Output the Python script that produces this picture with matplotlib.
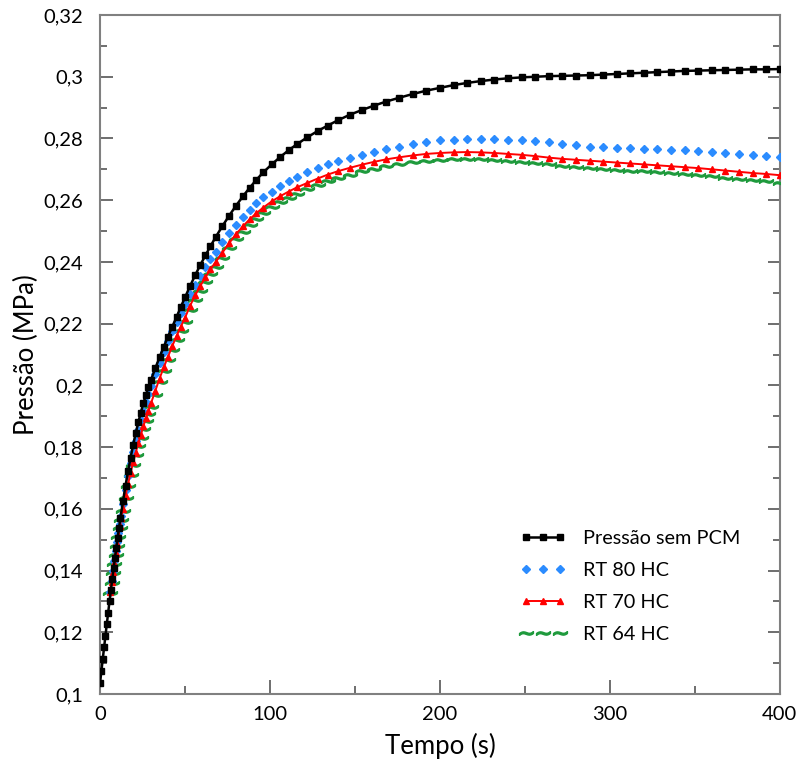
import matplotlib
matplotlib.use('Agg')
import matplotlib.pyplot as plt
from matplotlib.ticker import MultipleLocator, FuncFormatter

plt.rcParams['font.family'] = ['Lato', 'DejaVu Sans']

# tempo (s) da curva sem PCM
t_ref = [0.0, 0.8, 1.6, 2.4, 3.2, 4.0, 4.8, 5.6, 6.4, 7.2, 8.0, 8.8, 9.6, 10.4, 11.2, 12.0,
         13.5, 15, 16.5, 18, 19.5, 21, 22.5, 24, 25.5, 27, 28.5, 30,
         32.5, 35, 37.5, 40, 42.5, 45, 47.5, 50,
         53, 56, 59, 62, 65, 68,
         72, 76, 80, 84, 88, 92, 96,
         101, 106, 111, 116,
         122, 128, 134, 140,
         147, 154, 161, 168,
         176, 184, 192, 200, 208, 216, 224, 232, 240, 248, 256, 264, 272, 280, 288,
         296, 304, 312, 320, 328, 336, 344, 352, 360, 368, 376, 384, 392, 400]
p_ref = [0.1035, 0.1074, 0.1113, 0.1151, 0.1189, 0.1227, 0.1264, 0.1301, 0.1337, 0.1372,
         0.1407, 0.1441, 0.1474, 0.1507, 0.1539, 0.1570,
         0.1624, 0.1675, 0.1722, 0.1766, 0.1807, 0.1845, 0.1880, 0.1912, 0.1942, 0.1969, 0.1995, 0.2018,
         0.2055, 0.2091, 0.2125, 0.2158, 0.2190, 0.2221, 0.2254, 0.2285,
         0.2322, 0.2357, 0.2390, 0.2421, 0.2451, 0.2480,
         0.2516, 0.2550, 0.2582, 0.2612, 0.2640, 0.2666, 0.2690,
         0.2716, 0.2740, 0.2762, 0.2782,
         0.2804, 0.2824, 0.2842, 0.2859,
         0.2877, 0.2892, 0.2906, 0.2919,
         0.2932, 0.2944, 0.2955, 0.2964, 0.2973, 0.2980, 0.2986, 0.2991, 0.2995, 0.2998,
         0.3000, 0.3002, 0.3003, 0.3004, 0.3005, 0.3007, 0.3009, 0.3011, 0.3013, 0.3015,
         0.3017, 0.3019, 0.3020, 0.3021, 0.3022, 0.3023, 0.3024, 0.3024, 0.3025]

# tempo (s) das curvas com PCM
t_pcm = [6.0, 6.8, 7.6, 8.4, 9.2, 10.0, 10.8, 11.6, 12.4,
         13.5, 15, 16.5, 18, 19.5, 21, 22.5, 24, 25.5, 27, 28.5, 30,
         32.5, 35, 37.5, 40, 42.5, 45, 47.5, 50,
         53, 56, 59, 62, 65, 68,
         72, 76, 80, 84, 88, 92, 96,
         101, 106, 111, 116,
         122, 128, 134, 140,
         147, 154, 161, 168,
         176, 184, 192, 200, 208, 216, 224, 232, 240, 248, 256, 264, 272, 280, 288,
         296, 304, 312, 320, 328, 336, 344, 352, 360, 368, 376, 384, 392, 400]
p_rt80 = [0.1332, 0.1366, 0.1399, 0.1431, 0.1462, 0.1492, 0.1521, 0.1550, 0.1578,
          0.1615, 0.1662, 0.1706, 0.1747, 0.1785, 0.1821, 0.1855, 0.1887, 0.1917, 0.1945, 0.1972, 0.1997,
          0.2036, 0.2073, 0.2109, 0.2143, 0.2175, 0.2206, 0.2235, 0.2263,
          0.2295, 0.2326, 0.2355, 0.2382, 0.2408, 0.2433,
          0.2464, 0.2493, 0.2520, 0.2545, 0.2568, 0.2590, 0.2610,
          0.2628, 0.2646, 0.2662, 0.2676,
          0.2691, 0.2705, 0.2717, 0.2727,
          0.2738, 0.2748, 0.2757, 0.2765,
          0.2774, 0.2782, 0.2789, 0.2794, 0.2796, 0.2797, 0.2797, 0.2797, 0.2796, 0.2794,
          0.2791, 0.2787, 0.2782, 0.2778, 0.2774, 0.2771, 0.2770, 0.2769, 0.2767, 0.2766,
          0.2764, 0.2762, 0.2759, 0.2755, 0.2752, 0.2749, 0.2746, 0.2743, 0.2741]
p_rt70 = [0.1330, 0.1363, 0.1395, 0.1426, 0.1456, 0.1486, 0.1515, 0.1543, 0.1570,
          0.1600, 0.1642, 0.1681, 0.1717, 0.1751, 0.1782, 0.1812, 0.1840, 0.1867, 0.1893, 0.1918, 0.1942,
          0.1982, 0.2022, 0.2058, 0.2093, 0.2127, 0.2160, 0.2190, 0.2219,
          0.2258, 0.2292, 0.2322, 0.2350, 0.2376, 0.2400,
          0.2430, 0.2461, 0.2490, 0.2515, 0.2538, 0.2558, 0.2576,
          0.2596, 0.2613, 0.2628, 0.2642,
          0.2656, 0.2670, 0.2683, 0.2694,
          0.2705, 0.2715, 0.2724, 0.2732,
          0.2739, 0.2745, 0.2750, 0.2753, 0.2755, 0.2756, 0.2755, 0.2753, 0.2750, 0.2747,
          0.2743, 0.2738, 0.2734, 0.2731, 0.2728, 0.2725, 0.2722, 0.2719, 0.2716, 0.2713,
          0.2710, 0.2707, 0.2704, 0.2700, 0.2696, 0.2692, 0.2688, 0.2685, 0.2681]
p_rt64 = [0.1328, 0.1360, 0.1391, 0.1421, 0.1451, 0.1480, 0.1509, 0.1537, 0.1564,
          0.1594, 0.1635, 0.1674, 0.1710, 0.1743, 0.1774, 0.1803, 0.1831, 0.1857, 0.1883, 0.1907, 0.1931,
          0.1970, 0.2010, 0.2046, 0.2081, 0.2114, 0.2147, 0.2177, 0.2206,
          0.2244, 0.2277, 0.2307, 0.2334, 0.2360, 0.2384,
          0.2414, 0.2444, 0.2473, 0.2498, 0.2520, 0.2540, 0.2558,
          0.2577, 0.2594, 0.2608, 0.2621,
          0.2635, 0.2648, 0.2661, 0.2672,
          0.2683, 0.2693, 0.2702, 0.2710,
          0.2717, 0.2723, 0.2728, 0.2731, 0.2733, 0.2733, 0.2732, 0.2730, 0.2727, 0.2724,
          0.2720, 0.2716, 0.2712, 0.2708, 0.2705, 0.2702, 0.2699, 0.2696, 0.2693, 0.2690,
          0.2687, 0.2684, 0.2681, 0.2677, 0.2673, 0.2669, 0.2665, 0.2661, 0.2657]

fig = plt.figure(figsize=(7.97, 7.71), dpi=100)
ax = fig.add_axes([0.1255, 0.0999, 0.853, 0.8806])

# curvas
ax.plot(t_ref, p_ref, color='black', lw=1.8, marker='s', ms=4.8, label='Pressão sem PCM', zorder=5)
ax.plot(t_pcm, p_rt80, color='#2b8cff', ls='none', marker='D', ms=4.5, label='RT 80 HC', zorder=4)
ax.plot(t_pcm, p_rt70, color='#ff0000', lw=1.4, marker='^', ms=5, label='RT 70 HC', zorder=4)
ax.plot(t_pcm, p_rt64, color='#1e9a3c', ls='none', marker=r'$\sim$', ms=10, label='RT 64 HC', zorder=3)

ax.set_xlim(0, 400)
ax.set_ylim(0.1, 0.32)
ax.xaxis.set_major_locator(MultipleLocator(100))
ax.xaxis.set_minor_locator(MultipleLocator(50))
ax.yaxis.set_major_locator(MultipleLocator(0.02))
ax.yaxis.set_minor_locator(MultipleLocator(0.01))
ax.yaxis.set_major_formatter(FuncFormatter(lambda v, pos: f'{v:g}'.replace('.', ',')))

for s in ax.spines.values():
    s.set_color('#808080')
    s.set_linewidth(1.5)
ax.tick_params(axis='y', which='both', direction='in', left=True, right=True, color='#555555', width=1.2)
ax.tick_params(axis='y', which='major', length=9, pad=12, labelsize=14.5)
ax.tick_params(axis='y', which='minor', length=5)
ax.tick_params(axis='x', which='both', direction='in', bottom=True, top=False, color='#555555', width=1.2)
ax.tick_params(axis='x', which='major', length=10, pad=9, labelsize=14.5)
ax.tick_params(axis='x', which='minor', length=6)

ax.set_xlabel('Tempo (s)', fontsize=18.5)
ax.set_ylabel('Pressão (MPa)', fontsize=18.5)
ax.xaxis.set_label_coords(0.5, -0.058)
ax.yaxis.set_label_coords(-0.09, 0.5)

ax.legend(loc='upper left', bbox_to_anchor=(0.592, 0.268), frameon=False, fontsize=14.3,
          numpoints=3, handlelength=2.3, handletextpad=0.85, labelspacing=0.75)

fig.savefig('out.png', dpi=100)
